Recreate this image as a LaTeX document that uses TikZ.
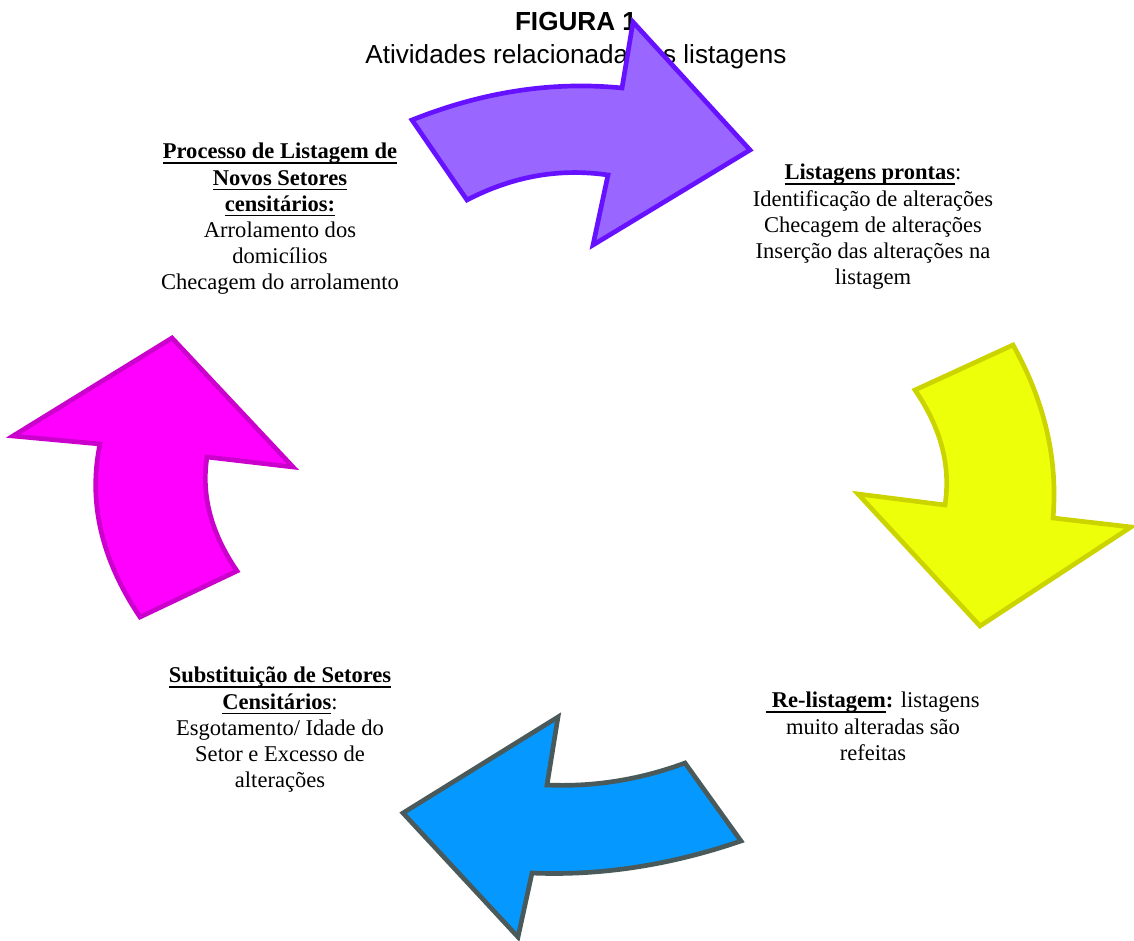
\documentclass[tikz,border=0pt]{standalone}
\usepackage{fontspec}
\setmainfont{Liberation Serif}
\newfontfamily\titlefont{Liberation Sans}

\newsavebox\ulnbox
\newcommand{\uln}[1]{\sbox\ulnbox{#1}\rlap{\rule[-3.6pt]{\wd\ulnbox}{1pt}}\usebox\ulnbox}

\definecolor{purplefill}{RGB}{153,102,255}
\definecolor{purpleline}{RGB}{102,17,255}
\definecolor{yellowfill}{RGB}{238,255,10}
\definecolor{yellowline}{RGB}{204,212,0}
\definecolor{bluefill}{RGB}{5,153,255}
\definecolor{blueline}{RGB}{74,89,89}
\definecolor{magentafill}{RGB}{255,0,255}
\definecolor{magentaline}{RGB}{204,0,204}

\begin{document}
\begin{tikzpicture}[x=0.75pt,y=-0.75pt,
  bigarrow/.style={line width=3.5pt,line join=miter},
  phase/.style={align=center,anchor=north,inner sep=0pt,font=\fontsize{16.9}{19.6}\selectfont}]

\useasboundingbox (0,0) rectangle (1134,941);

% title
\node[anchor=base,font=\titlefont\bfseries\fontsize{19.6}{22}\selectfont] (fig) at (576,31) {FIGURA 1};
\node[anchor=base,font=\titlefont\fontsize{19.6}{22}\selectfont] (subtitle) at (576,64) {Atividades relacionadas às listagens};

% purple arrow
\filldraw[bigarrow,fill=purplefill,draw=purpleline] (622,88) .. controls (552,81) and (482,92) .. (412,120) -- (467,200) .. controls (513,176) and (560,168) .. (608,175) -- (593,245) -- (750,150) -- (633,22) -- cycle;

% yellow arrow
\filldraw[bigarrow,fill=yellowfill,draw=yellowline] (1053,518) .. controls (1058,460) and (1045,402) .. (1013,345) -- (915,390) .. controls (941,428) and (951,466) .. (945,505) -- (858,494) -- (980,626) -- (1131,527) -- cycle;

% blue arrow
\filldraw[bigarrow,fill=bluefill,draw=blueline] (547,785) .. controls (593,787) and (639,780) .. (685,763) -- (741,841) .. controls (671,865) and (601,876) .. (532,873) -- (518,937) -- (403,813) -- (558,717) -- cycle;

% magenta arrow
\filldraw[bigarrow,fill=magentafill,draw=magentaline] (100,444) .. controls (88,501) and (101,559) .. (140,617) -- (237,571) .. controls (211,533) and (201,495) .. (207,457) -- (293,467) -- (172,338) -- (13,436) -- cycle;

% new sectors node
\node[phase] (newsectors) at (280,143) {\textbf{\uln{Processo de Listagem de}}\\ \textbf{\uln{Novos Setores}}\\ \textbf{\uln{censitários:}}\\ Arrolamento dos\\ domicílios\\ Checagem do arrolamento};

% ready lists node
\node[phase] (ready) at (873,164) {\textbf{\uln{Listagens prontas}}:\\ Identificação de alterações\\ Checagem de alterações\\ Inserção das alterações na\\ listagem};

% re-listing node
\node[phase] (relist) at (873,692) {\textbf{\uln{\hspace{0.25em}Re-listagem}:} listagens\\ muito alteradas são\\ refeitas};

% replacement node
\node[phase] (replace) at (280,667) {\textbf{\uln{Substituição de Setores}}\\ \textbf{\uln{Censitários}}:\\ Esgotamento/ Idade do\\ Setor e Excesso de\\ alterações};

\end{tikzpicture}
\end{document}
